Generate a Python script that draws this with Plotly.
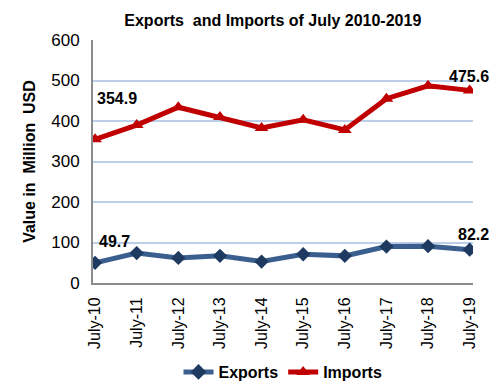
import plotly.graph_objects as go

categories = ["July-10", "July-11", "July-12", "July-13", "July-14",
              "July-15", "July-16", "July-17", "July-18", "July-19"]
exports = [49.7, 74, 62, 67, 53, 71, 67, 90, 91, 82.2]
imports = [354.9, 390, 434, 410, 383, 403, 378, 455, 487, 475.6]
y_ticks = [0, 100, 200, 300, 400, 500, 600]

fig = go.Figure()
fig.add_trace(go.Scatter(
    x=categories, y=exports, name="Exports", mode="lines+markers",
    line=dict(color="#3a5f8f", width=5),
    marker=dict(symbol="diamond", size=11, color="#1f3a60"),
))
fig.add_trace(go.Scatter(
    x=categories, y=imports, name="Imports", mode="lines+markers",
    line=dict(color="#c00000", width=5),
    marker=dict(symbol="triangle-up", size=12, color="#c00000"),
))

lab_font = dict(family="Arial, Liberation Sans", size=16, color="black")
anns = [
    (0, imports[0], "354.9", 41, "left", 0),
    (9, imports[9], "475.6", 14, "right", 21),
    (0, exports[0], "49.7", 21, "left", 2),
    (9, exports[9], "82.2", 15, "right", 21),
]
for xi, yv, txt, dy, anc, dx in anns:
    fig.add_annotation(x=categories[xi], y=yv, text="<b>%s</b>" % txt,
                       showarrow=False, yshift=dy, xanchor=anc, yanchor="middle",
                       xshift=dx, font=lab_font)

fig.update_layout(
    width=496, height=392,
    margin=dict(l=93, r=23, t=40, b=109, autoexpand=False),
    paper_bgcolor="white", plot_bgcolor="white",
    title=dict(text="<b>Exports  and Imports of July 2010-2019</b>",
               x=0.55, xanchor="center", y=0.948, yanchor="middle",
               font=dict(family="Arial, Liberation Sans", size=16, color="black")),
    font=dict(family="Arial, Liberation Sans", color="black"),
    showlegend=True,
    legend=dict(orientation="h", x=0.5, xanchor="center",
                yref="container", y=0.051, yanchor="middle",
                font=dict(size=16, color="black", weight="bold"),
                itemsizing="constant", traceorder="normal"),
)
fig.update_xaxes(
    type="category", range=[-0.05, 9.08], showgrid=False,
    showline=True, linecolor="#8c8c8c", linewidth=2,
    tickangle=-90, tickfont=dict(size=16, color="black"),
    ticks="", zeroline=False, automargin=False, ticklabelstandoff=6,
)
fig.update_yaxes(
    range=[0, 600], tickvals=y_ticks, showgrid=True, gridcolor="#bccfe8", gridwidth=1.5,
    showline=True, linecolor="#8c8c8c", linewidth=2,
    tickfont=dict(size=17, color="black"), ticks="", zeroline=False, automargin=False,
    ticklabelstandoff=8,
    title=dict(text="<b>Value in  Million  USD</b>", font=dict(size=16, color="black"), standoff=12),
)
fig.write_html("out.html", config={"displayModeBar": False},
               post_script="document.body.style.margin='0';document.body.style.padding='0';")
